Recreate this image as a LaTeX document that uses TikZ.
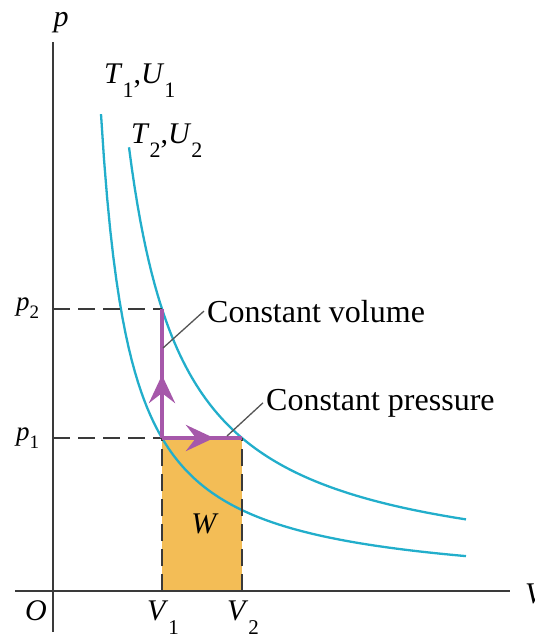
\documentclass[tikz,border=0pt]{standalone}
\usepackage{fontspec}
\usepackage{graphicx}
\setmainfont{Liberation Serif}
\usetikzlibrary{arrows.meta}
\definecolor{isocol}{HTML}{22AECB}
\definecolor{purcol}{HTML}{A658AA}
\definecolor{workcol}{HTML}{F3BD56}
\definecolor{axiscol}{HTML}{3A3A3A}
\definecolor{leadcol}{HTML}{555555}
\newcommand\lab[4]{\textit{#1}\raisebox{-#4}{\fontsize{#3}{#3}\selectfont #2}}
\tikzset{
  axisline/.style={draw=axiscol,line width=2.2pt},
  iso/.style={draw=isocol,line width=2.3pt},
  guide/.style={draw=axiscol,line width=2pt,dash pattern=on 17pt off 8pt},
  proc/.style={draw=purcol,line width=4.5pt},
  proctip/.style={-{Stealth[length=28pt,width=26pt,inset=10pt]}},
  leader/.style={draw=leadcol,line width=1.3pt},
  lbl/.style={inner sep=0pt,font=\fontsize{30}{34}\selectfont},
  txt/.style={inner sep=0pt,font=\fontsize{32}{36}\selectfont},
}
\begin{document}
\begin{tikzpicture}[x=1pt,y=-1pt]
\useasboundingbox (0,0) rectangle (535,638);
% key points
\coordinate (O) at (53,591);
\coordinate (ytop) at (53,42);
\coordinate (ybot) at (53,632);
\coordinate (xleft) at (15,591);
\coordinate (xright) at (510,591);
\coordinate (A) at (162,438);   % V1,p1
\coordinate (B) at (162,309);   % V1,p2
\coordinate (C) at (242,438);   % V2,p1
\coordinate (V1) at (162,591);
\coordinate (V2) at (242,591);
\coordinate (P1) at (53,438);
\coordinate (P2) at (53,309);
\coordinate (vtip) at (162,375);
\coordinate (htip) at (214,438);
% work area
\fill[workcol] (A) rectangle (V2);
% isotherms
\draw[iso] plot[domain=48:413,samples=120] ({53+\x},{591-1374.2/((\x-19.18)/10)});
\draw[iso] plot[domain=76:413,samples=120] ({53+\x},{591-2402.2/((\x-20.56)/10)-10.4});
% axes
\draw[axisline] (ybot) -- (ytop);
\draw[axisline] (xleft) -- (xright);
% guides
\draw[guide] (P2) -- (B);
\draw[guide] (P1) -- (A);
\draw[guide] (V1) -- (A);
\draw[guide] (V2) -- (C);
% processes
\draw[proc] (A) -- (B);
\draw[proc,proctip] (A) -- (vtip);
\draw[proc] (A) -- (C);
\draw[proc,proctip] (A) -- (htip);
% labels
\node[lbl,anchor=base] (plab) at (61,26) {\textit{p}};
\node[lbl,anchor=base west] (vlab) at (525,603) {\textit{V}};
\node[lbl,anchor=base west] (olab) at (25,620) {\textit{O}};
\node[lbl,anchor=base west] (v1lab) at (147,620) {\lab{V}{1}{21}{14pt}};
\node[lbl,anchor=base west] (v2lab) at (227,620) {\lab{V}{2}{21}{14pt}};
\node[lbl,anchor=base west,font=\fontsize{27}{30}\selectfont] (p2lab) at (16,310) {\lab{p}{2}{19}{8pt}};
\node[lbl,anchor=base west,font=\fontsize{27}{30}\selectfont] (p1lab) at (16,440) {\lab{p}{1}{19}{8pt}};
\node[lbl,anchor=base west] (t1lab) at (104,83) {\lab{T}{1}{22}{14pt},\lab{U}{1}{22}{14pt}};
\node[lbl,anchor=base west] (t2lab) at (131,143) {\lab{T}{2}{22}{14pt},\lab{U}{2}{22}{14pt}};
\node[lbl,anchor=base] (wlab) at (205,533) {\textit{W}};
\node[txt,anchor=base west] (cv) at (207,322) {Constant volume};
\node[txt,anchor=base west] (cp) at (266,410) {Constant pressure};
\coordinate (lv) at (163,348);
\coordinate (lp) at (227,436);
\draw[leader] (lv) -- ([xshift=-3pt]cv.west);
\draw[leader] (lp) -- ([xshift=-3pt]cp.west);
\end{tikzpicture}
\end{document}
